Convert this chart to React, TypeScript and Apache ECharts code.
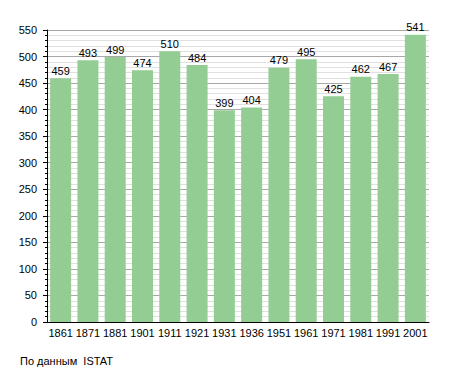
import React, { useEffect, useRef } from "react";
import * as echarts from "echarts";

const years = ["1861", "1871", "1881", "1901", "1911", "1921", "1931", "1936", "1951", "1961", "1971", "1981", "1991", "2001"];
const population = [459, 493, 499, 474, 510, 484, 399, 404, 479, 495, 425, 462, 467, 541];
const sourceNote = "По данным  ISTAT";

export default function App() {
  const ref = useRef<HTMLDivElement>(null);
  useEffect(() => {
    const chart = echarts.init(ref.current!, null, { renderer: "svg" });
    chart.setOption({
      animation: false,
      textStyle: { fontFamily: "Liberation Sans, Arial, sans-serif" },
      grid: { left: 47, top: 30, right: 26, bottom: 51, containLabel: false },
      xAxis: {
        type: "category",
        data: years,
        axisLine: { lineStyle: { color: "#000", width: 1 } },
        axisTick: { show: false },
        axisLabel: { color: "#000", fontSize: 11, margin: 5, interval: 0 },
      },
      yAxis: {
        type: "value",
        min: 0,
        max: 550,
        interval: 50,
        axisLine: { show: true, lineStyle: { color: "#000", width: 1 } },
        axisTick: { show: true, length: 4, lineStyle: { color: "#000" } },
        minorTick: { show: true, splitNumber: 5, length: 2, lineStyle: { color: "#000" } },
        axisLabel: { color: "#000", fontSize: 11, margin: 10 },
        splitLine: { show: true, lineStyle: { color: "#a8a8a8", width: 1 } },
        minorSplitLine: { show: true, lineStyle: { color: "#e0e0e0", width: 1 } },
      },
      series: [
        {
          type: "bar",
          data: population,
          barWidth: 21,
          itemStyle: { color: "#93cd93" },
          label: { show: true, position: "top", distance: 2, color: "#000", fontSize: 11 },
        },
      ],
      graphic: [
        {
          type: "text",
          left: 20,
          top: 355,
          style: { text: sourceNote, fill: "#000", fontSize: 11, fontFamily: "Liberation Sans, Arial, sans-serif" },
        },
      ],
    });
    return () => chart.dispose();
  }, []);
  return <div ref={ref} style={{ width: 455, height: 373, position: "absolute", left: 0, top: 0 }} />;
}
